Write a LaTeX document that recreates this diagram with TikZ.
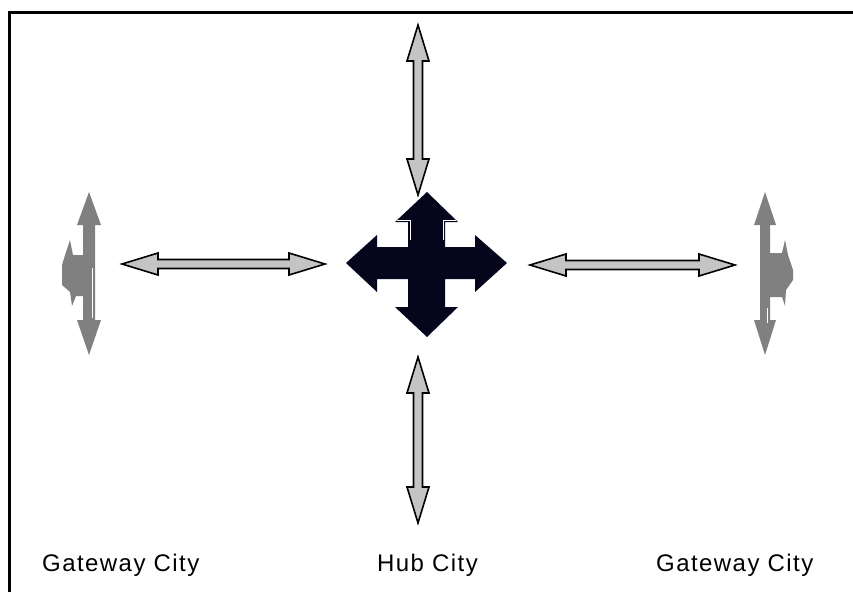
\documentclass[tikz,border=0pt]{standalone}
\usepackage{fontspec}
\newfontfamily\lblfont[LetterSpace=6]{Liberation Sans}
\definecolor{arrgray}{HTML}{C4C4C4}
\definecolor{icongray}{HTML}{808080}
\definecolor{hubnavy}{HTML}{05051C}
\tikzset{
  dblarr/.pic={
    \draw[fill=arrgray,draw=black,line width=1.6pt,line join=miter]
      (-\arrhalf,0) -- (-\arrhalf+36,-11) -- (-\arrhalf+36,-4.5) -- (\arrhalf-36,-4.5)
      -- (\arrhalf-36,-11) -- (\arrhalf,0) -- (\arrhalf-36,11) -- (\arrhalf-36,4.5)
      -- (-\arrhalf+36,4.5) -- (-\arrhalf+36,11) -- cycle;
  },
  lbl/.style={anchor=base west,inner sep=0pt,font=\lblfont\fontsize{24}{28}\selectfont,text=black},
  frameline/.style={line width=3pt,black}
}
\newcommand{\arrhalf}{85}
\begin{document}
\begin{tikzpicture}[x=1pt,y=-1pt]
\useasboundingbox (0,0) rectangle (853,592);
\fill[white] (0,0) rectangle (853,592);
% frame
\draw[frameline] (9,592) -- (9,12) -- (853,12);
% four double arrows
\renewcommand{\arrhalf}{85}
\pic[rotate=90] at (418,110) {dblarr};
\renewcommand{\arrhalf}{83}
\pic[rotate=90] at (418,440) {dblarr};
\renewcommand{\arrhalf}{101.5}
\pic at (223.5,264) {dblarr};
\renewcommand{\arrhalf}{102.5}
\pic at (632.5,265) {dblarr};
% central hub cross
\fill[hubnavy] (427,192) -- (458,222) -- (445,222) -- (445,247) -- (475,247) -- (475,235)
  -- (507,263) -- (475,292) -- (475,279) -- (445,279) -- (445,307) -- (458,307)
  -- (427,337) -- (395,307) -- (408,307) -- (408,279) -- (377,279) -- (377,292)
  -- (346,263) -- (377,235) -- (377,247) -- (408,247) -- (408,222) -- (395,222) -- cycle;
\draw[white,line width=1pt] (397,220.5) -- (410,220.5) -- (410,240);
\draw[white,line width=1pt] (456,220.5) -- (443.5,220.5) -- (443.5,240);
% left gateway icon
\fill[icongray] (89,192) -- (101,225) -- (95,225) -- (95,320) -- (101,320) -- (89,355)
  -- (77,320) -- (83,320) -- (83,296) -- (76,296) -- (72,306) -- (70,292) -- (62,285)
  -- (62,265) -- (66,252) -- (70,240) -- (73,255) -- (83,255) -- (83,225) -- (77,225) -- cycle;
\draw[white,line width=1pt] (92.5,268) -- (92.5,318);
% right gateway icon
\fill[icongray] (765,192) -- (776,225) -- (770,225) -- (770,253) -- (782,253) -- (785,240)
  -- (788,255) -- (793,270) -- (793,280) -- (786,290) -- (785,306) -- (782,297) -- (770,297)
  -- (770,320) -- (776,320) -- (765,355) -- (754,320) -- (760,320) -- (760,225) -- (754,225) -- cycle;
\draw[white,line width=1pt] (767.5,308) -- (767.5,323);
% labels
\node[lbl] (gwl) at (42,571) {Gateway City};
\node[lbl] (hub) at (377,571) {Hub City};
\node[lbl] (gwr) at (656,571) {Gateway City};
\end{tikzpicture}
\end{document}
